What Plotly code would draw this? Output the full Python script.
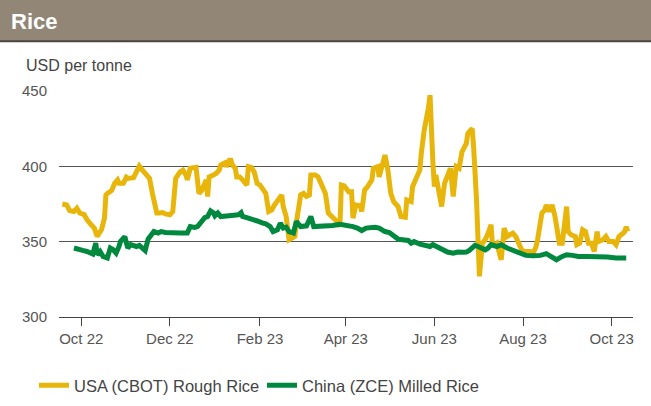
import plotly.graph_objects as go

usa_dates = [
"2022-09-18","2022-09-21","2022-09-23","2022-09-26","2022-09-28","2022-09-30","2022-10-03","2022-10-05","2022-10-08","2022-10-10",
"2022-10-12","2022-10-15","2022-10-17","2022-10-18","2022-10-19","2022-10-22","2022-10-24","2022-10-26","2022-10-27","2022-10-30",
"2022-11-01","2022-11-02","2022-11-06","2022-11-08","2022-11-10","2022-11-12","2022-11-15","2022-11-17","2022-11-19","2022-11-22",
"2022-11-24","2022-11-26","2022-11-28","2022-12-01","2022-12-03","2022-12-04","2022-12-05","2022-12-08","2022-12-10","2022-12-12",
"2022-12-13","2022-12-15","2022-12-17","2022-12-19","2022-12-21","2022-12-23","2022-12-24","2022-12-26","2022-12-27","2022-12-28",
"2022-12-31","2023-01-02","2023-01-04","2023-01-05","2023-01-08","2023-01-09","2023-01-11","2023-01-12","2023-01-13","2023-01-15",
"2023-01-16","2023-01-18","2023-01-20","2023-01-23","2023-01-24","2023-01-26","2023-01-28","2023-01-30","2023-02-01","2023-02-03",
"2023-02-05","2023-02-07","2023-02-09","2023-02-11","2023-02-13","2023-02-16","2023-02-17","2023-02-19","2023-02-21","2023-02-23",
"2023-02-25","2023-02-26","2023-02-28","2023-03-01","2023-03-03","2023-03-05","2023-03-07","2023-03-08","2023-03-11","2023-03-13",
"2023-03-15","2023-03-18","2023-03-20","2023-03-23","2023-03-26","2023-03-28","2023-03-29","2023-03-31","2023-04-03","2023-04-05",
"2023-04-06","2023-04-08","2023-04-11","2023-04-12","2023-04-14","2023-04-16","2023-04-19","2023-04-20","2023-04-23","2023-04-24",
"2023-04-26","2023-04-28","2023-04-30","2023-05-02","2023-05-04","2023-05-07","2023-05-09","2023-05-12","2023-05-13","2023-05-16",
"2023-05-17","2023-05-20","2023-05-22","2023-05-23","2023-05-25","2023-05-28","2023-05-29","2023-05-31","2023-06-01","2023-06-02",
"2023-06-04","2023-06-06","2023-06-08","2023-06-10","2023-06-12","2023-06-14","2023-06-16","2023-06-18","2023-06-20","2023-06-23",
"2023-06-24","2023-06-27","2023-06-28","2023-06-30","2023-07-02","2023-07-04","2023-07-06","2023-07-08","2023-07-10","2023-07-11",
"2023-07-14","2023-07-16","2023-07-17","2023-07-19","2023-07-21","2023-07-23","2023-07-25","2023-07-27","2023-07-29","2023-07-31",
"2023-08-02","2023-08-06","2023-08-08","2023-08-10","2023-08-11","2023-08-14","2023-08-16","2023-08-17","2023-08-19","2023-08-21",
"2023-08-23","2023-08-25","2023-08-26","2023-08-28","2023-08-31","2023-09-01","2023-09-03","2023-09-06","2023-09-07","2023-09-09",
"2023-09-11","2023-09-13","2023-09-15","2023-09-17","2023-09-19","2023-09-21","2023-09-22","2023-09-25","2023-09-27","2023-09-29",
"2023-10-02","2023-10-04","2023-10-06","2023-10-09","2023-10-10","2023-10-11","2023-10-12",
]
usa_values = [
375,374.4,370.6,370,372.2,369,368,364.5,361,359,
353.5,358,365.6,381,382,384,388.7,391,388.7,388.7,
392.7,392,392.5,396.4,400.2,397.6,394.3,392,382,369,
369,369.3,368.4,367.8,370,380,392,396.4,397.5,394.3,
391,398.7,399,399.3,382,384,386.5,391,380,393,
394.3,395.4,397.6,400.9,402.4,399.8,404,404,401,398.7,
393,393,391,387.6,399.8,399.3,396.4,388.7,387.6,385.4,
382,370,371,374.4,376.6,381,373.3,366.7,351.3,352.4,
353.4,362.3,375.5,381,382,380,381,394.3,394.3,393,
388.7,382,369,366.7,363.4,360,387.6,387,383.2,383.2,
365.6,374.4,373.8,370,384.3,386.5,391,398.7,399.8,393,
402,407.5,397.6,382,376.6,373.3,366.7,366.2,377.7,376.6,
386.5,393,397.6,408.6,424,439.4,447.2,402,386.5,394.3,
384.3,373.3,388.7,393,398.7,380,399.8,398.7,409.7,415.2,
421.8,425.1,413,377.7,327,349,351.3,355.7,361.2,346.8,
349,341.3,338,359,353.4,354.6,355.7,353.4,349,344.6,
343.5,343.5,342.4,346.8,351.3,369,371,374.4,370,374.4,
366.7,353.4,349,349,373.3,356.7,354.6,353.4,348,349,
357.9,356.7,349,349,343.5,356.7,350.1,351.3,353.4,350.1,
350.1,348,353.4,355.7,356.7,360,356.7,
]

china_dates = [
"2022-09-26","2022-09-29","2022-10-02","2022-10-05","2022-10-07","2022-10-09","2022-10-11","2022-10-12","2022-10-14","2022-10-16",
"2022-10-19","2022-10-21","2022-10-23","2022-10-25","2022-10-27","2022-10-28","2022-10-31","2022-11-02","2022-11-04","2022-11-08",
"2022-11-10","2022-11-12","2022-11-14","2022-11-16","2022-11-18","2022-11-20","2022-11-23","2022-11-25","2022-11-28","2022-12-02",
"2022-12-05","2022-12-08","2022-12-11","2022-12-13","2022-12-15","2022-12-18","2022-12-20","2022-12-23","2022-12-25","2022-12-27",
"2022-12-29","2022-12-31","2023-01-01","2023-01-03","2023-01-05","2023-01-09","2023-01-13","2023-01-17","2023-01-19","2023-01-20",
"2023-01-24","2023-01-27","2023-01-31","2023-02-03","2023-02-05","2023-02-08","2023-02-10","2023-02-13","2023-02-15","2023-02-17",
"2023-02-19","2023-02-21","2023-02-24","2023-02-26","2023-03-01","2023-03-05","2023-03-08","2023-03-10","2023-03-14","2023-03-18",
"2023-03-21","2023-03-23","2023-03-28","2023-04-01","2023-04-06","2023-04-09","2023-04-12","2023-04-15","2023-04-21","2023-04-24",
"2023-04-28","2023-05-01","2023-05-04","2023-05-07","2023-05-10","2023-05-14","2023-05-16","2023-05-18","2023-05-22","2023-05-25",
"2023-05-29","2023-05-31","2023-06-04","2023-06-07","2023-06-10","2023-06-14","2023-06-17","2023-06-21","2023-06-23","2023-06-25",
"2023-06-29","2023-07-01","2023-07-04","2023-07-06","2023-07-08","2023-07-10","2023-07-14","2023-07-17","2023-07-21","2023-07-24",
"2023-07-28","2023-07-31","2023-08-03","2023-08-08","2023-08-13","2023-08-17","2023-08-21","2023-08-24","2023-08-28","2023-08-31",
"2023-09-04","2023-09-08","2023-09-14","2023-09-21","2023-09-28","2023-10-04","2023-10-11",
]
china_values = [
345.8,344.6,344.2,343.5,342.4,341.8,349,341.3,343.5,340.2,
339.2,345.8,344.6,342.4,346.8,350.1,353.4,345.8,348,346.8,
347.5,345.8,344,351.7,354.6,356.7,355.7,356.7,356.1,355.7,
355.2,355.7,355.7,355.7,360,359.4,360,363.4,366,366.7,
370.4,369,367.1,369,366.7,367.1,367.8,367.8,369.3,366.7,
365.6,364.9,363.4,362.3,361.8,360,356.7,357.9,362.3,359,
359.6,356.7,355.7,363.4,360,360.5,366.7,360,360,360.5,
360.7,360.7,361.6,361.2,360,359,357.4,359,359.6,359,
356.7,356.1,353.4,351.7,351.3,350.8,349,350.1,348.4,347.5,
346.8,348,345.8,344.6,343.1,342.4,343.1,342.9,343.1,344.2,
347.5,346.8,345.8,344.6,345.8,348,346.8,348,345.8,344.6,
343.5,342,340.9,340.7,340.9,342,340.2,338,340.2,341.3,
340.9,340.2,340.2,340.2,339.8,339.2,339.2,
]

tick_dates = ["2022-10-01","2022-12-01","2023-02-01","2023-04-01","2023-06-01","2023-08-01","2023-10-01"]
tick_labels = ["Oct 22","Dec 22","Feb 23","Apr 23","Jun 23","Aug 23","Oct 23"]
y_ticks = [300, 350, 400, 450]

series_names = ["USA (CBOT) Rough Rice", "China (ZCE) Milled Rice"]
colors = ["#E8B50A", "#00883E"]

FONT = "Liberation Sans, Arial, sans-serif"
PW = 574.0   # plot width in px
PH = 226.6   # plot height in px

fig = go.Figure()
fig.add_trace(go.Scatter(x=usa_dates, y=usa_values, mode="lines", name=series_names[0],
                         line=dict(color=colors[0], width=5)))
fig.add_trace(go.Scatter(x=china_dates, y=china_values, mode="lines", name=series_names[1],
                         line=dict(color=colors[1], width=5)))

fig.update_layout(
    width=651, height=406,
    margin=dict(l=59, r=18, t=91, b=89, autoexpand=False),
    paper_bgcolor="white", plot_bgcolor="white",
    font=dict(family=FONT, color="#555555", size=14),
    showlegend=True,
    legend=dict(orientation="h", x=-25/PW, xanchor="left",
                y=-(386 - 317.3) / PH, yanchor="middle",
                font=dict(size=16.5, color="#444444", family=FONT),
                itemwidth=30, traceorder="normal", entrywidth=183),
    shapes=[
        dict(type="rect", xref="paper", yref="paper", x0=-59/PW, x1=1 + 18/PW,
             y0=1 + (91 - 41) / PH, y1=1 + 92 / PH,
             fillcolor="#928677", line=dict(width=0), layer="below"),
        dict(type="line", xref="paper", yref="paper", x0=-59/PW, x1=1 + 18/PW,
             y0=1 + (91 - 41) / PH, y1=1 + (91 - 41) / PH,
             line=dict(color="#4a4540", width=2)),
    ],
    annotations=[
        dict(text="<b>Rice</b>", xref="paper", yref="paper",
             x=-50/PW, y=1 + (91 - 21) / PH, xanchor="left", yanchor="middle",
             showarrow=False, font=dict(size=22, color="white", family=FONT)),
        dict(text="USD per tonne", xref="paper", yref="paper",
             x=-35/PW, y=1 + (91 - 65) / PH, xanchor="left", yanchor="middle",
             showarrow=False, font=dict(size=16, color="#444444", family=FONT)),
    ],
)

fig.update_xaxes(
    type="date",
    range=["2022-09-15 17:00", "2023-10-15 16:00"],
    tickvals=tick_dates, ticktext=tick_labels,
    ticks="outside", ticklen=8, tickwidth=1, tickcolor="#444444",
    showgrid=False, showline=True, linecolor="#444444", linewidth=1.3,
    tickfont=dict(size=15, color="#555555"),
    zeroline=False,
)
fig.update_yaxes(
    range=[300, 450], tickvals=y_ticks,
    showgrid=True, gridcolor="#555555", gridwidth=1,
    ticks="outside", ticklen=8, tickcolor="rgba(0,0,0,0)",
    showline=False, zeroline=False,
    tickfont=dict(size=15, color="#555555"),
)

fig.write_html("out.html", config={"displayModeBar": False},
               post_script="document.body.style.margin='0px';")
